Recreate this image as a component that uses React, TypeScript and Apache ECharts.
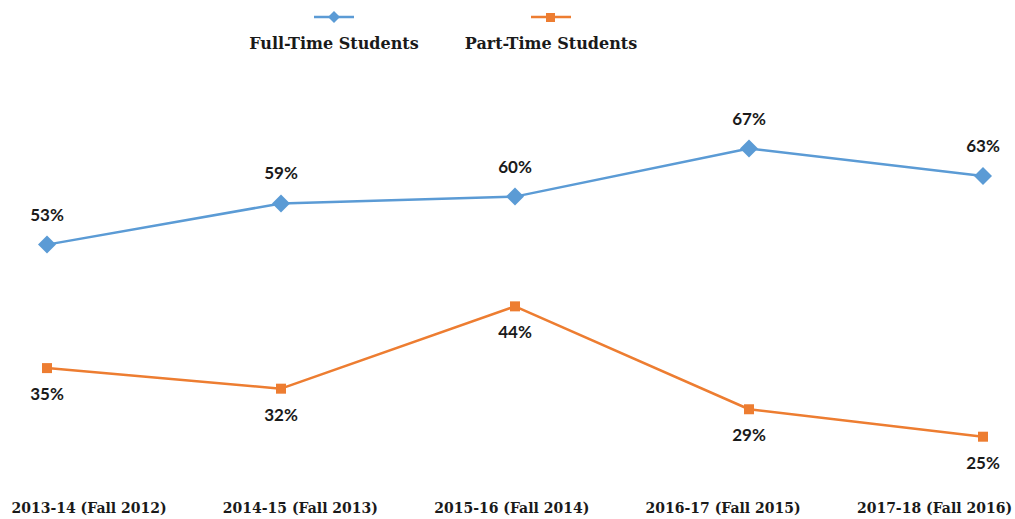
import React, { useEffect, useRef } from "react";
import * as echarts from "echarts";

const categories = [
  "2013-14 (Fall 2012)",
  "2014-15 (Fall 2013)",
  "2015-16 (Fall 2014)",
  "2016-17 (Fall 2015)",
  "2017-18 (Fall 2016)",
];
const fullTime = [53, 59, 60, 67, 63];
const partTime = [35, 32, 44, 29, 25];
const seriesNames = ["Full-Time Students", "Part-Time Students"];

const BLUE = "#5B9BD5";
const ORANGE = "#ED7D31";
const SERIF = "'DejaVu Serif', serif";
const SANS = "Lato, 'Open Sans', sans-serif";

export default function App() {
  const ref = useRef<HTMLDivElement>(null);
  useEffect(() => {
    if (!ref.current) return;
    const chart = echarts.init(ref.current, null, { renderer: "svg" });
    const labelStyle = {
      show: true,
      formatter: "{c}%",
      fontFamily: SANS,
      fontWeight: "bold" as const,
      fontSize: 17,
      color: "#1a1a1a",
    };
    chart.setOption({
      animation: false,
      backgroundColor: "#ffffff",
      grid: [
        { left: 47, right: 32, top: 128, bottom: 48 },
        { left: 89, right: 80, top: 128, bottom: 48 },
      ],
      xAxis: [
        {
          type: "category",
          gridIndex: 0,
          data: categories,
          boundaryGap: false,
          axisLine: { show: false },
          axisTick: { show: false },
          axisLabel: { show: false },
        },
        {
          type: "category",
          gridIndex: 1,
          data: categories,
          boundaryGap: false,
          axisLine: { show: false },
          axisTick: { show: false },
          axisLabel: {
            margin: 30,
            fontFamily: SERIF,
            fontWeight: "bold",
            fontSize: 14,
            color: "#1a1a1a",
          },
        },
      ],
      yAxis: [
        {
          type: "value",
          gridIndex: 0,
          min: 20,
          max: 70,
          show: false,
          splitLine: { show: false },
        },
        {
          type: "value",
          gridIndex: 1,
          min: 20,
          max: 70,
          show: false,
          splitLine: { show: false },
        },
      ],
      graphic: [
        { type: "line", shape: { x1: 314, y1: 17, x2: 354, y2: 17 }, style: { stroke: BLUE, lineWidth: 2.5 } },
        { type: "polygon", shape: { points: [[334, 11], [340, 17], [334, 23], [328, 17]] }, style: { fill: BLUE } },
        { type: "line", shape: { x1: 531, y1: 17, x2: 571, y2: 17 }, style: { stroke: ORANGE, lineWidth: 2.5 } },
        { type: "rect", shape: { x: 546, y: 13, width: 9, height: 9 }, style: { fill: ORANGE } },
        {
          type: "text",
          x: 334,
          y: 43,
          style: {
            text: seriesNames[0],
            fontFamily: SERIF,
            fontWeight: "bold",
            fontSize: 16,
            fill: "#1a1a1a",
            align: "center",
            verticalAlign: "middle",
          },
        },
        {
          type: "text",
          x: 551,
          y: 43,
          style: {
            text: seriesNames[1],
            fontFamily: SERIF,
            fontWeight: "bold",
            fontSize: 16,
            fill: "#1a1a1a",
            align: "center",
            verticalAlign: "middle",
          },
        },
      ],
      series: [
        {
          name: seriesNames[0],
          type: "line",
          xAxisIndex: 0,
          yAxisIndex: 0,
          data: fullTime,
          symbol: "diamond",
          symbolSize: 18,
          lineStyle: { color: BLUE, width: 2.5 },
          itemStyle: { color: BLUE },
          label: { ...labelStyle, position: "top", distance: 13 },
        },
        {
          name: seriesNames[1],
          type: "line",
          xAxisIndex: 0,
          yAxisIndex: 0,
          data: partTime,
          symbol: "rect",
          symbolSize: 10,
          lineStyle: { color: ORANGE, width: 2.5 },
          itemStyle: { color: ORANGE },
          label: { ...labelStyle, position: "bottom", distance: 12 },
        },
      ],
    });
    return () => chart.dispose();
  }, []);
  return <div ref={ref} style={{ width: 1015, height: 519, position: "absolute", left: 0, top: 0 }} />;
}
